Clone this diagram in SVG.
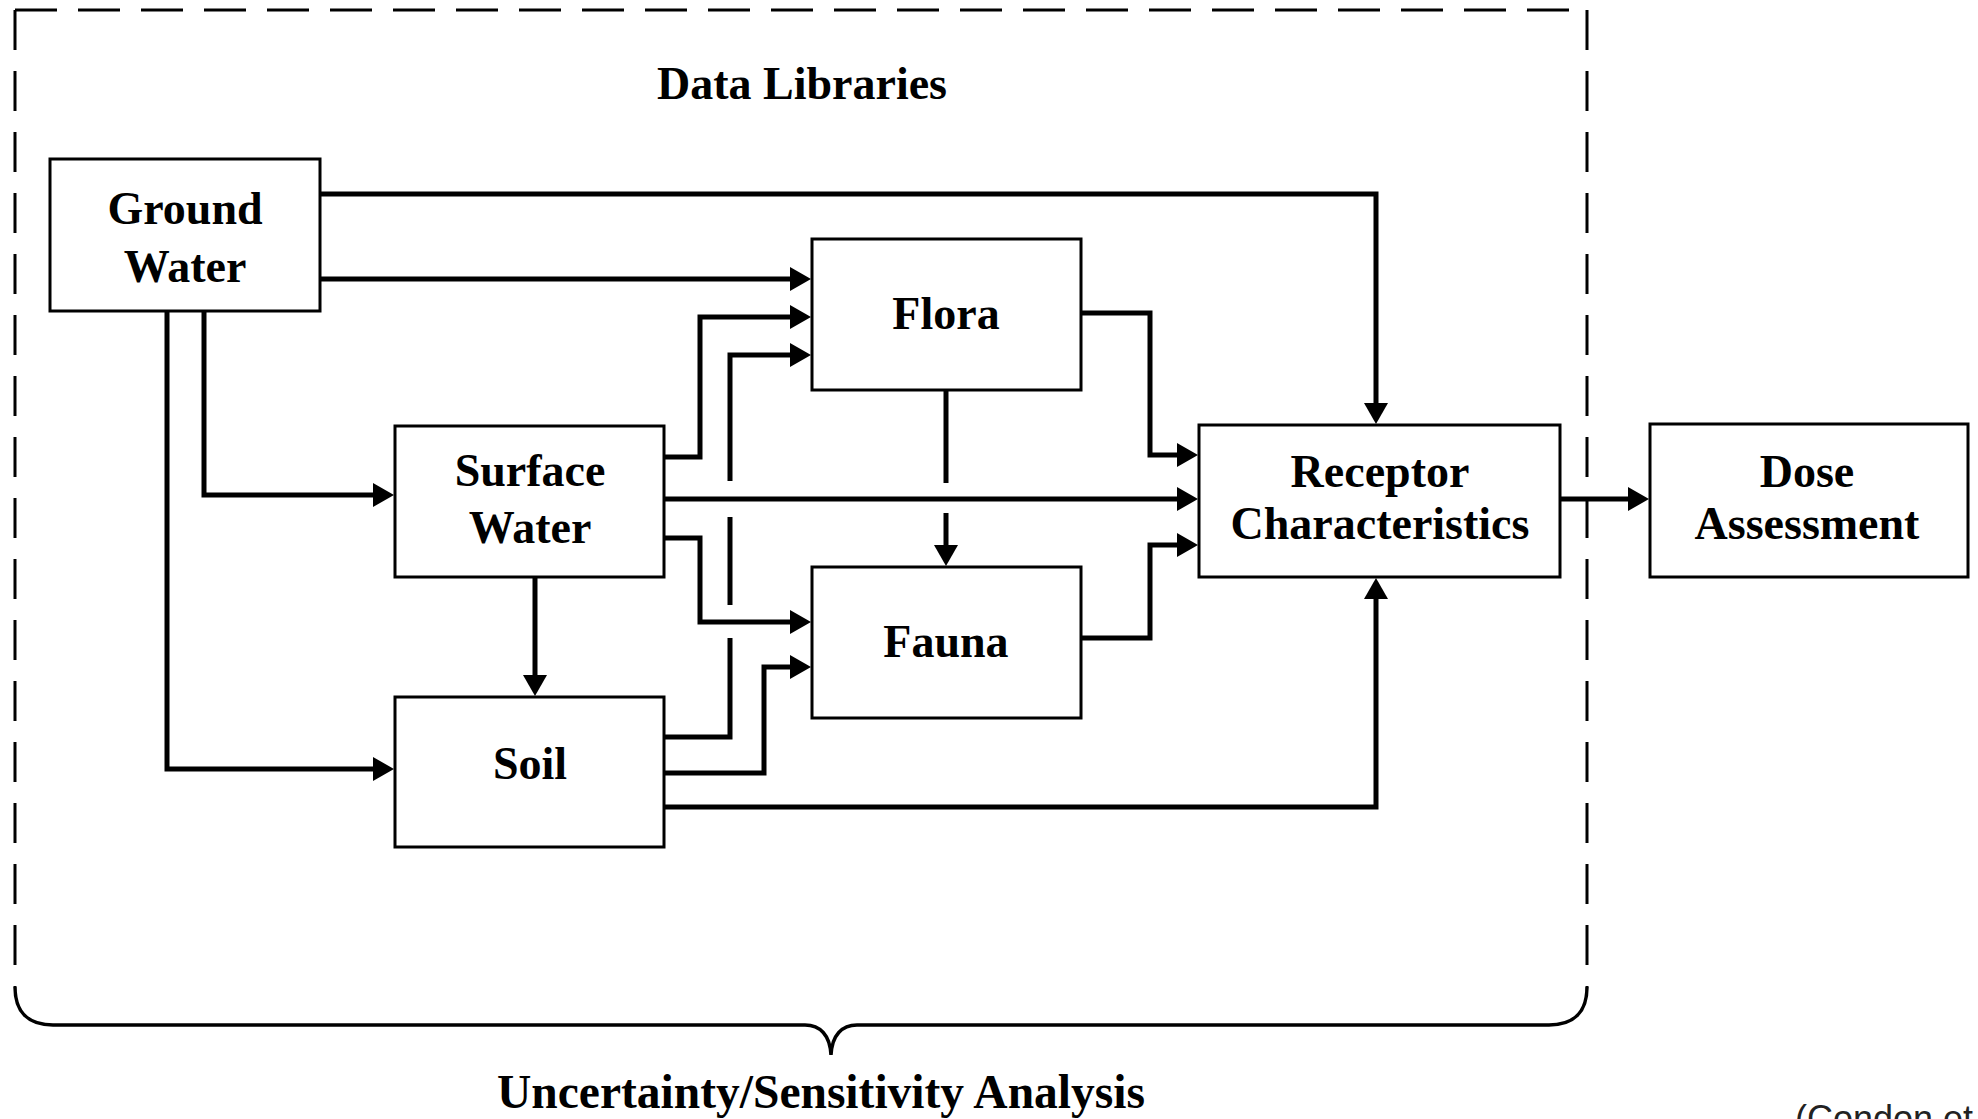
<svg xmlns="http://www.w3.org/2000/svg" width="1978" height="1119" viewBox="0 0 1978 1119">
<style>
.box{fill:#fff;stroke:#000;stroke-width:3}
.lbl{font-family:"Liberation Serif","Times New Roman",serif;font-weight:bold;font-size:46px;fill:#000;text-anchor:middle}
.c{fill:none;stroke:#000;stroke-width:5;stroke-linejoin:miter}
.a{marker-end:url(#ah)}
.dash{fill:none;stroke:#000;stroke-width:3}
</style>
<defs>
<marker id="ah" markerUnits="userSpaceOnUse" markerWidth="24" markerHeight="26" refX="11" refY="12" orient="auto">
<path d="M0,0 L21,12 L0,24 z" fill="#000"/>
</marker>
</defs>
<rect width="1978" height="1119" fill="#fff"/>
<g id="frame">
<path class="dash" stroke-dasharray="40 21" d="M15,10 V987"/>
<path class="dash" stroke-dasharray="42 21" d="M15,10 H1587"/>
<path class="dash" stroke-dasharray="40 21" d="M1587,10 V987"/>
<path d="M15,987 C15,1012 28,1025 53,1025 L805,1025 C820,1025 830,1035 831,1055 C832,1035 842,1025 857,1025 L1549,1025 C1574,1025 1587,1012 1587,987" fill="none" stroke="#000" stroke-width="3.5"/>
<text class="lbl" x="802" y="99">Data Libraries</text>
<text class="lbl" x="821" y="1108" style="font-size:47.5px">Uncertainty/Sensitivity Analysis</text>
</g>
<g id="connectors">
<path class="c a" d="M320,194 H1376 V414"/>
<path class="c a" d="M320,279 H801"/>
<path class="c a" d="M664,457 H700 V317 H801"/>
<path class="c" d="M664,737 H730 V638"/>
<path class="c" d="M730,605 V517"/>
<path class="c a" d="M730,481 V355 H801"/>
<path class="c a" d="M204,311 V495 H384"/>
<path class="c a" d="M167,311 V769 H384"/>
<path class="c a" d="M664,499 H1188"/>
<path class="c a" d="M664,538 H700 V622 H801"/>
<path class="c a" d="M535,577 V686"/>
<path class="c" d="M946,390 V483"/>
<path class="c a" d="M946,513 V556"/>
<path class="c a" d="M664,773 H764 V667 H801"/>
<path class="c a" d="M664,807 H1376 V588"/>
<path class="c a" d="M1081,313 H1150 V455 H1188"/>
<path class="c a" d="M1081,638 H1150 V545 H1188"/>
<path class="c a" d="M1560,499 H1639"/>
</g>
<g id="ground-water">
<rect class="box" x="50" y="159" width="270" height="152"/>
<text class="lbl" x="185" y="224">Ground</text>
<text class="lbl" x="185" y="282">Water</text>
</g>
<g id="flora">
<rect class="box" x="812" y="239" width="269" height="151"/>
<text class="lbl" x="946" y="329">Flora</text>
</g>
<g id="surface-water">
<rect class="box" x="395" y="426" width="269" height="151"/>
<text class="lbl" x="530" y="486">Surface</text>
<text class="lbl" x="530" y="543">Water</text>
</g>
<g id="fauna">
<rect class="box" x="812" y="567" width="269" height="151"/>
<text class="lbl" x="946" y="657">Fauna</text>
</g>
<g id="soil">
<rect class="box" x="395" y="697" width="269" height="150"/>
<text class="lbl" x="530" y="779">Soil</text>
</g>
<g id="receptor">
<rect class="box" x="1199" y="425" width="361" height="152"/>
<text class="lbl" x="1380" y="487">Receptor</text>
<text class="lbl" x="1380" y="539">Characteristics</text>
</g>
<g id="dose">
<rect class="box" x="1650" y="424" width="318" height="153"/>
<text class="lbl" x="1807" y="487">Dose</text>
<text class="lbl" x="1807" y="539">Assessment</text>
</g>
<text x="1795" y="1131" style="font-family:'Liberation Sans',Arial,sans-serif;font-size:36px;fill:#222">(Condon et</text>
</svg>
